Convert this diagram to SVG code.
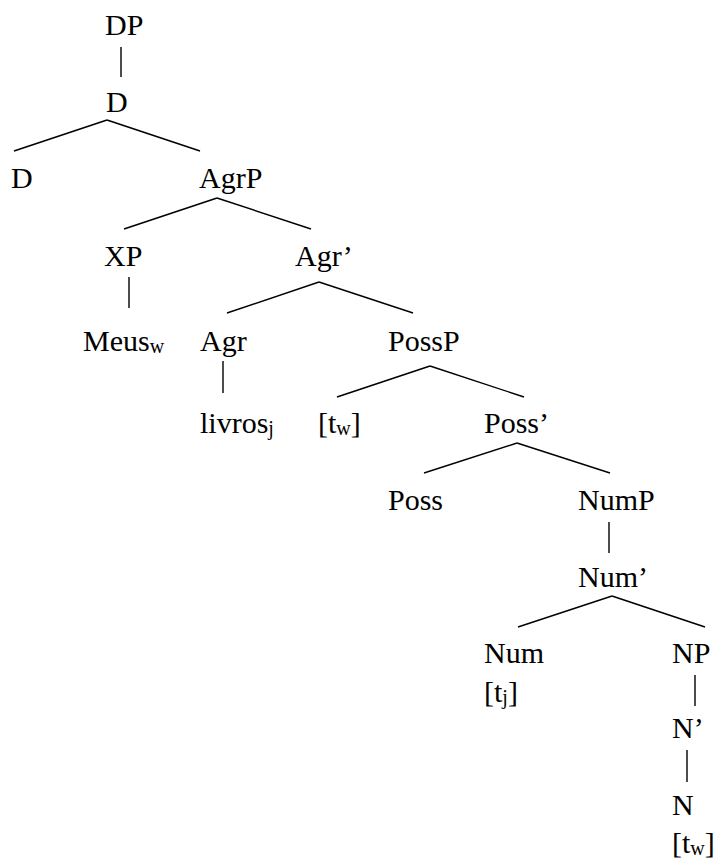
<svg xmlns="http://www.w3.org/2000/svg" width="717" height="860" viewBox="0 0 717 860">
<style>
text{font-family:"Liberation Serif","Times New Roman",serif;font-size:30px;fill:#000}
.s{font-size:20px}
line{stroke:#000;stroke-width:1.4;stroke-linecap:butt}
</style>
<rect width="717" height="860" fill="#fff"/>
<g id="connectors">
<line x1="121" y1="47" x2="121" y2="77"/>
<line x1="107" y1="120" x2="14" y2="151"/>
<line x1="107" y1="120" x2="200" y2="151"/>
<line x1="217" y1="198" x2="124" y2="229"/>
<line x1="217" y1="198" x2="311" y2="229"/>
<line x1="129" y1="277" x2="129" y2="308"/>
<line x1="319" y1="282" x2="227" y2="313"/>
<line x1="319" y1="282" x2="413" y2="313"/>
<line x1="223" y1="361" x2="223" y2="393"/>
<line x1="430" y1="366" x2="337" y2="397"/>
<line x1="430" y1="366" x2="524" y2="397"/>
<line x1="517" y1="443" x2="424" y2="473"/>
<line x1="517" y1="443" x2="610" y2="473"/>
<line x1="609" y1="522" x2="609" y2="553"/>
<line x1="612" y1="596" x2="518" y2="627"/>
<line x1="612" y1="596" x2="705" y2="627"/>
<line x1="695" y1="675" x2="695" y2="706"/>
<line x1="687" y1="750" x2="687" y2="782"/>
</g>
<g id="n-DP"><text x="105" y="35">DP</text></g>
<g id="n-D1"><text x="106" y="112">D</text></g>
<g id="n-D2"><text x="11" y="188">D</text></g>
<g id="n-AgrP"><text x="199" y="188">AgrP</text></g>
<g id="n-XP"><text x="104" y="266">XP</text></g>
<g id="n-Agr1"><text x="295" y="266">Agr’</text></g>
<g id="n-Meus"><text x="83" y="351">Meus<tspan class="s" dy="2">w</tspan></text></g>
<g id="n-Agr"><text x="200" y="351">Agr</text></g>
<g id="n-PossP"><text x="388" y="351">PossP</text></g>
<g id="n-livros"><text x="200" y="433">livros<tspan class="s" dy="2">j</tspan></text></g>
<g id="n-tw1"><text x="318" y="433">[t<tspan class="s" dy="2">w</tspan><tspan dy="-2">]</tspan></text></g>
<g id="n-Poss1"><text x="484" y="433">Poss’</text></g>
<g id="n-Poss"><text x="388" y="510">Poss</text></g>
<g id="n-NumP"><text x="578" y="510">NumP</text></g>
<g id="n-Num1"><text x="578" y="587">Num’</text></g>
<g id="n-Num"><text x="484" y="663">Num</text></g>
<g id="n-tj"><text x="484" y="702">[t<tspan class="s" dy="2">j</tspan><tspan dy="-2">]</tspan></text></g>
<g id="n-NP"><text x="672" y="663">NP</text></g>
<g id="n-N1"><text x="672" y="738">N’</text></g>
<g id="n-N"><text x="672" y="815">N</text></g>
<g id="n-tw2"><text x="672" y="853">[t<tspan class="s" dy="2">w</tspan><tspan dy="-2">]</tspan></text></g>
</svg>
